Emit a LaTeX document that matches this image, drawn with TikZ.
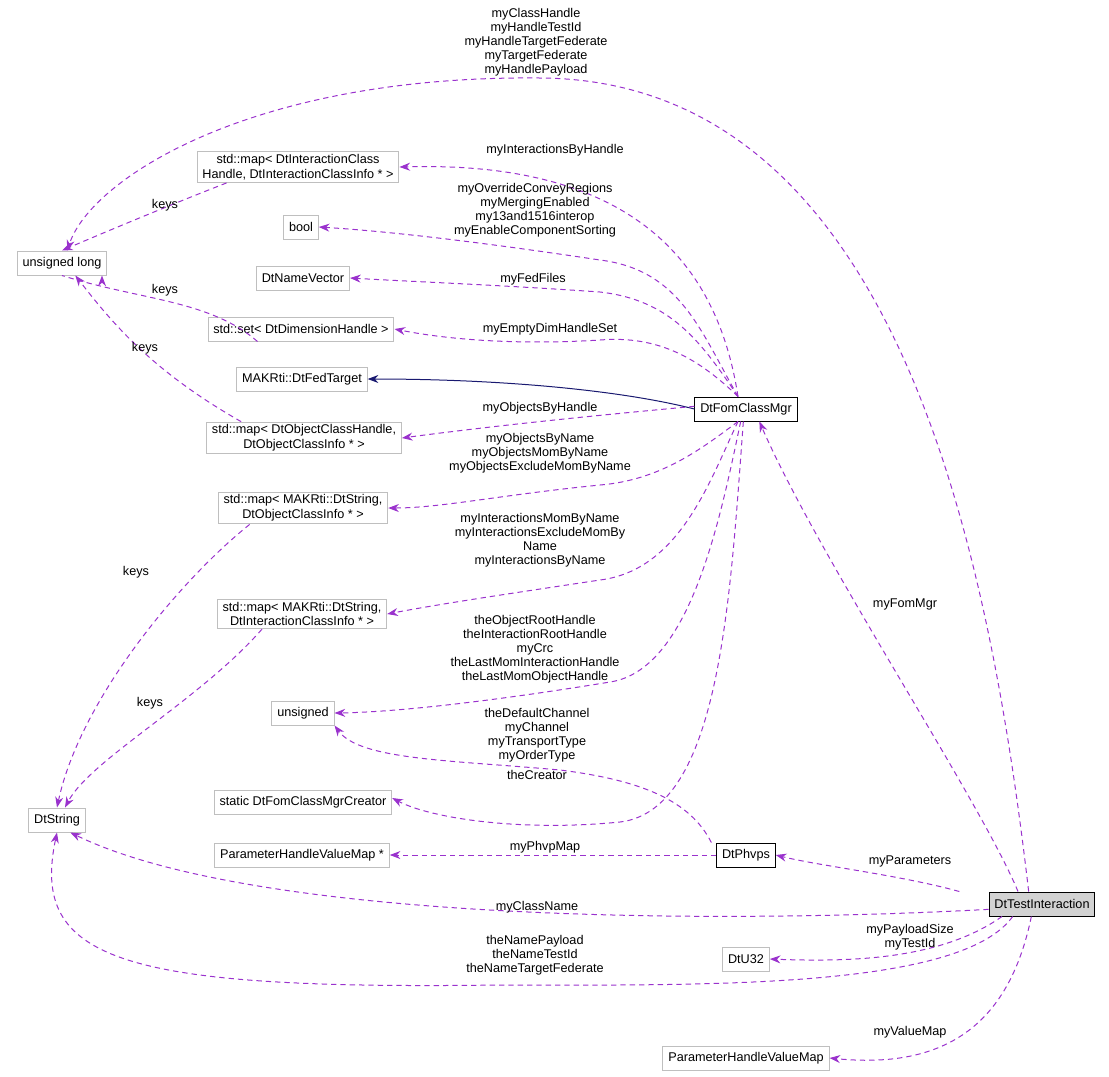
\documentclass[tikz,border=0pt]{standalone}
\usepackage{fontspec}
\setmainfont{Liberation Sans}
\usetikzlibrary{arrows.meta}
\definecolor{edgepurple}{RGB}{154,50,205}
\definecolor{boxgray}{RGB}{191,191,191}
\definecolor{inhnavy}{RGB}{25,25,112}
\tikzset{every picture/.style={line width=0.75pt}}
\tikzset{
  cls/.style={draw=boxgray,fill=white,align=center,font=\fontsize{9.5}{11}\selectfont,inner xsep=4pt,inner ysep=2pt,minimum height=18pt},
  main/.style={cls,draw=black},
  use/.style={draw=edgepurple,dashed,dash pattern=on 4pt off 3pt,-{Stealth[length=8pt,width=6pt]}},
  inh/.style={draw=inhnavy,-{Stealth[length=8pt,width=6pt]}},
  lbl/.style={align=center,font=\fontsize{9.5}{10.5}\selectfont}
}
\begin{document}
\begin{tikzpicture}[x=0.75pt,y=0.75pt,yscale=-1,xscale=1]
\useasboundingbox (0,0) rectangle (1109,1076);

% classes
\node[cls] (ulong) at (62,263) {unsigned long};
\node[cls] (mapIch) at (298,167) {std::map\textless{} DtInteractionClass\\Handle, DtInteractionClassInfo * \textgreater};
\node[cls] (bool) at (301,227) {bool};
\node[cls] (nameVec) at (303,278) {DtNameVector};
\node[cls] (setDim) at (301,329) {std::set\textless{} DtDimensionHandle \textgreater};
\node[cls] (fedTarget) at (302,379) {MAKRti::DtFedTarget};
\node[cls] (mapOch) at (304,438) {std::map\textless{} DtObjectClassHandle,\\DtObjectClassInfo * \textgreater};
\node[cls] (mapOname) at (303,508) {std::map\textless{} MAKRti::DtString,\\DtObjectClassInfo * \textgreater};
\node[cls] (mapIname) at (302,614) {std::map\textless{} MAKRti::DtString,\\DtInteractionClassInfo * \textgreater};
\node[cls] (unsigned) at (303,713) {unsigned};
\node[cls] (creator) at (303,802) {static DtFomClassMgrCreator};
\node[cls] (phvmPtr) at (302,855) {ParameterHandleValueMap *};
\node[cls] (dtString) at (57,820) {DtString};
\node[cls] (dtU32) at (746,959) {DtU32};
\node[cls] (phvm) at (746,1058) {ParameterHandleValueMap};
\node[main] (fomMgr) at (746,409) {DtFomClassMgr};
\node[main] (phvps) at (746,855) {DtPhvps};
\node[main,fill=boxgray!70] (testInt) at (1042,904) {DtTestInteraction};

% keys
\draw[use] (mapIch.south west) ++(30,0) .. controls (170,205) and (110,230) .. (ulong.north);
\draw[use] (setDim.south west) ++(50,0) .. controls (210,300) and (140,300) .. (ulong.south) ++(40,0);
\draw[use] (mapOch.north west) ++(35,0) .. controls (150,370) and (110,320) .. ([xshift=10pt]ulong.south);
\draw[use] ([xshift=-40pt]mapOname.south) .. controls (180,580) and (80,700) .. (dtString.north);
\draw[use] ([xshift=-30pt]mapIname.south) .. controls (200,700) and (90,760) .. ([xshift=6pt]dtString.north);
\node[lbl] at (165,205) {keys};
\node[lbl] at (165,290) {keys};
\node[lbl] at (145,348) {keys};
\node[lbl] at (136,572) {keys};
\node[lbl] at (150,703) {keys};

% DtFomClassMgr members
\draw[use] ([xshift=-6pt]fomMgr.north) .. controls (720,280) and (650,160) .. (mapIch.east);
\draw[use] ([xshift=-6pt]fomMgr.north) .. controls (700,330) and (680,270) .. (600,260) .. controls (500,245) and (400,232) .. (bool.east);
\draw[use] ([xshift=-6pt]fomMgr.north) .. controls (700,340) and (670,300) .. (600,292) .. controls (500,285) and (420,282) .. (nameVec.east);
\draw[use] ([xshift=-6pt]fomMgr.north) .. controls (700,360) and (660,335) .. (600,340) .. controls (520,345) and (450,340) .. (setDim.east);
\draw[inh] (fomMgr.west) .. controls (620,390) and (500,379) .. (fedTarget.east);
\draw[use] ([yshift=-2pt]fomMgr.west) .. controls (600,415) and (500,425) .. (mapOch.east);
\draw[use] ([xshift=-6pt]fomMgr.south) .. controls (700,450) and (660,480) .. (600,485) .. controls (500,495) and (440,508) .. (mapOname.east);
\draw[use] ([xshift=-6pt]fomMgr.south) .. controls (710,480) and (680,570) .. (600,580) .. controls (500,595) and (440,604) .. (mapIname.east);
\draw[use] ([xshift=-4pt]fomMgr.south) .. controls (720,520) and (690,670) .. (610,682) .. controls (500,700) and (400,712) .. (unsigned.east);
\draw[use] ([xshift=-2pt]fomMgr.south) .. controls (730,600) and (720,810) .. (620,822) .. controls (520,832) and (430,818) .. ([yshift=-3pt]creator.east);
\node[lbl] at (555,150) {myInteractionsByHandle};
\node[lbl] at (535,210) {myOverrideConveyRegions\\myMergingEnabled\\my13and1516interop\\myEnableComponentSorting};
\node[lbl] at (533,279) {myFedFiles};
\node[lbl] at (550,329) {myEmptyDimHandleSet};
\node[lbl] at (540,408) {myObjectsByHandle};
\node[lbl] at (540,453) {myObjectsByName\\myObjectsMomByName\\myObjectsExcludeMomByName};
\node[lbl] at (540,540) {myInteractionsMomByName\\myInteractionsExcludeMomBy\\Name\\myInteractionsByName};
\node[lbl] at (535,649) {theObjectRootHandle\\theInteractionRootHandle\\myCrc\\theLastMomInteractionHandle\\theLastMomObjectHandle};
\node[lbl] at (537,775) {theCreator};

% DtPhvps members
\draw[use] ([xshift=-26pt]phvps.north) .. controls (690,800) and (640,780) .. (560,770) .. controls (450,760) and (360,760) .. (unsigned.south east);
\draw[use] (phvps.west) -- (phvmPtr.east);
\node[lbl] at (537,735) {theDefaultChannel\\myChannel\\myTransportType\\myOrderType};
\node[lbl] at (545,847) {myPhvpMap};

% DtTestInteraction members
\draw[use] ([xshift=-10pt]testInt.north) .. controls (990,560) and (900,80) .. (540,78) .. controls (250,75) and (90,180) .. ([xshift=4pt]ulong.north);
\draw[use] ([xshift=-18pt]testInt.north) .. controls (980,800) and (820,560) .. ([xshift=10pt]fomMgr.south);
\draw[use] ([xshift=-62pt]testInt.north) .. controls (900,875) and (820,866) .. (phvps.east);
\draw[use] ([yshift=4pt]testInt.west) .. controls (700,925) and (250,920) .. ([xshift=10pt]dtString.south);
\draw[use] ([xshift=-30pt]testInt.south) .. controls (940,960) and (850,962) .. (dtU32.east);
\draw[use] ([xshift=-22pt]testInt.south) .. controls (960,990) and (700,985) .. (500,985) .. controls (120,990) and (30,960) .. (dtString.south);
\draw[use] ([xshift=-8pt]testInt.south) .. controls (1010,1020) and (950,1070) .. (phvm.east);
\node[lbl] at (536,42) {myClassHandle\\myHandleTestId\\myHandleTargetFederate\\myTargetFederate\\myHandlePayload};
\node[lbl] at (905,604) {myFomMgr};
\node[lbl] at (910,861) {myParameters};
\node[lbl] at (537,907) {myClassName};
\node[lbl] at (910,937) {myPayloadSize\\myTestId};
\node[lbl] at (535,955) {theNamePayload\\theNameTestId\\theNameTargetFederate};
\node[lbl] at (910,1032) {myValueMap};
\end{tikzpicture}
\end{document}
